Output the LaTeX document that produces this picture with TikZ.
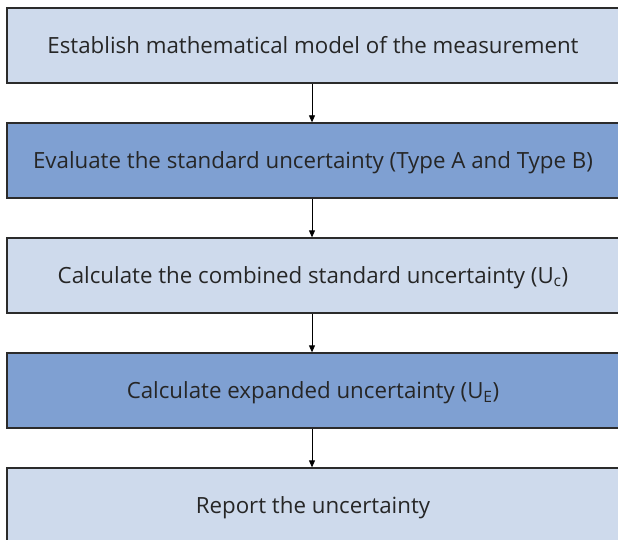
\documentclass[tikz,border=0pt]{standalone}
\usepackage{fontspec}
\setmainfont{Open Sans}
\usetikzlibrary{arrows.meta}
\definecolor{lightbox}{HTML}{CEDAEC}
\definecolor{darkbox}{HTML}{7FA0D2}
\definecolor{edge}{HTML}{2B2B2B}
\tikzset{
  stepbox/.style={draw=edge, line width=1.3pt, minimum width=612pt, minimum height=75pt, inner sep=0pt, text height=21pt, text depth=5pt, font=\fontsize{22.3}{26}\selectfont, text=black!85},
  light/.style={stepbox, fill=lightbox},
  dark/.style={stepbox, fill=darkbox},
  link/.style={-{Triangle[width=6pt,length=7pt]}, line width=0.8pt, black}
}
\begin{document}
\begin{tikzpicture}[x=1pt,y=1pt]
\useasboundingbox (0,0) rectangle (618,-540);
\clip (0,0) rectangle (618,-540);
\node[light] (b1) at (313,-45.5) {Establish mathematical model of the measurement};
\node[dark]  (b2) at (313,-160.5) {Evaluate the standard uncertainty (Type A and Type B)};
\node[light] (b3) at (313,-275.5) {Calculate the combined standard uncertainty (U\textsubscript{c})};
\node[dark]  (b4) at (313,-390.5) {Calculate expanded uncertainty (U\textsubscript{E})};
\node[light] (b5) at (313,-505.5) {Report the uncertainty};
\draw[link] (b1.south -| 312,0) -- (b2.north -| 312,0);
\draw[link] (b2.south -| 312,0) -- (b3.north -| 312,0);
\draw[link] (b3.south -| 312,0) -- (b4.north -| 312,0);
\draw[link] (b4.south -| 312,0) -- (b5.north -| 312,0);
\end{tikzpicture}
\end{document}
